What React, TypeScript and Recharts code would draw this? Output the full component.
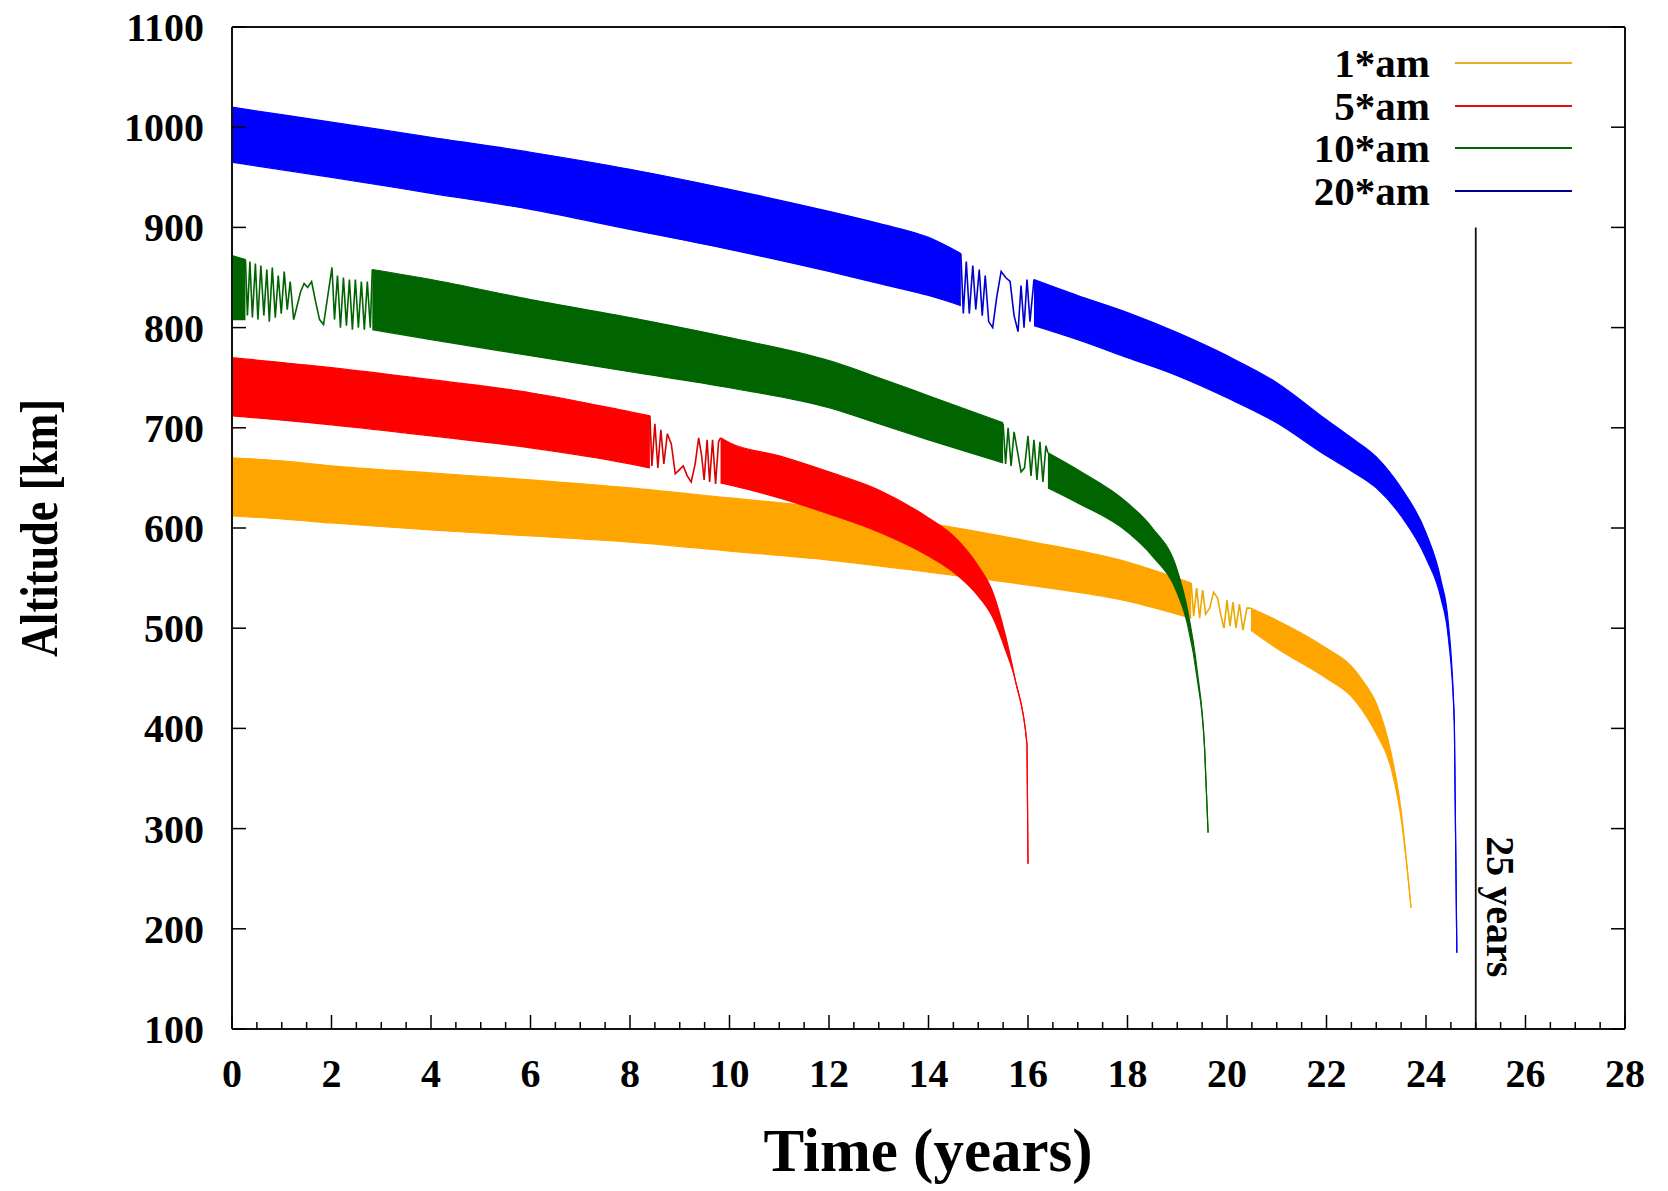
import { Area, ComposedChart, Line, ReferenceDot, ReferenceLine, XAxis, YAxis } from "recharts";

const SERIF = '"Liberation Serif", "Times New Roman", Times, serif';

const ORANGE = "#ffa500";
const RED = "#ff0000";
const GREEN = "#006400";
const BLUE = "#0000ff";

const xTicks = [
  0, 0.5, 1, 1.5, 2, 2.5, 3, 3.5, 4, 4.5, 5, 5.5, 6, 6.5, 7, 7.5, 8, 8.5, 9, 9.5, 10, 10.5, 11, 11.5, 12, 12.5, 13, 13.5,
  14, 14.5, 15, 15.5, 16, 16.5, 17, 17.5, 18, 18.5, 19, 19.5, 20, 20.5, 21, 21.5, 22, 22.5, 23, 23.5, 24, 24.5, 25, 25.5,
  26, 26.5, 27, 27.5, 28,
];
const yTicks = [100, 200, 300, 400, 500, 600, 700, 800, 900, 1000, 1100];

const legendLabels = ["1*am", "5*am", "10*am", "20*am"];
const legendColors = ["#e8b020", "#e01010", GREEN, "#000090"];

// 1*am : band envelope (low / high), null = gap where the trace is sparse
const am1Time = [0, 1, 2, 4, 6, 8, 10, 12, 14, 16, 18, 19.28, 19.9, 20.48, 21, 22, 22.5, 22.75, 23, 23.3, 23.5, 23.62, 23.7];
const am1Low = [612, 609, 605, 598, 592, 586, 577, 568, 556, 543, 527, 510, null, 498, 480, 450, 432, 416, 395, 360, 310, 260, 221];
const am1High = [670, 667, 662, 655, 648, 640, 630, 620, 605, 587, 566, 545, null, 520, 508, 480, 462, 446, 425, 375, 318, 262, 221];
const am1WiggleTime = [19.28, 19.33, 19.39, 19.45, 19.51, 19.57, 19.65, 19.73, 19.81, 19.88, 19.94, 20.0, 20.06, 20.12, 20.18, 20.25, 20.32, 20.4, 20.48];
const am1WiggleAlt = [545, 512, 540, 510, 538, 514, 520, 536, 530, 512, 500, 528, 502, 526, 500, 524, 498, 520, 520];

// 5*am
const am5Time = [0, 2, 4, 6, 8, 8.4, 9.1, 9.82, 10, 11, 12, 13, 14, 14.5, 15, 15.3, 15.55, 15.75, 15.98, 16.0];
const am5Low = [712, 703, 692, 680, 664, 660, null, 645, 643, 630, 614, 596, 572, 556, 532, 510, 478, 447, 384, 265];
const am5High = [770, 760, 748, 735, 716, 712, null, 690, 685, 672, 656, 638, 610, 592, 562, 535, 492, 447, 384, 265];
const am5WiggleTime = [8.4, 8.44, 8.5, 8.56, 8.62, 8.68, 8.75, 8.83, 8.91, 8.99, 9.07, 9.15, 9.23, 9.31, 9.38, 9.44, 9.49, 9.55, 9.6, 9.66, 9.72, 9.78, 9.82];
const am5WiggleAlt = [712, 662, 704, 660, 698, 664, 694, 684, 654, 658, 662, 652, 646, 664, 690, 672, 648, 688, 646, 688, 644, 686, 690];

// 10*am
const am10Time = [0, 0.27, 1.5, 2.82, 4, 6, 8, 10, 12, 13, 14, 15.5, 16.0, 16.4, 17, 18, 18.5, 19, 19.2, 19.4, 19.55, 19.62];
const am10Low = [808, 808, null, 798, 788, 772, 756, 740, 720, 704, 688, 665, null, 640, 625, 596, 572, 535, 505, 450, 380, 296];
const am10High = [872, 868, null, 858, 848, 828, 810, 790, 767, 750, 732, 705, null, 675, 658, 625, 600, 558, 520, 458, 380, 296];
const am10WiggleTime = [
  0.27, 0.31, 0.36, 0.41, 0.47, 0.52, 0.58, 0.64, 0.7, 0.75, 0.81, 0.87, 0.93, 0.99, 1.05, 1.11, 1.17, 1.24, 1.31, 1.38, 1.45,
  1.52, 1.6, 1.68, 1.76, 1.84, 1.92, 2.01, 2.06, 2.12, 2.18, 2.24, 2.3, 2.36, 2.42, 2.48, 2.54, 2.6, 2.66, 2.72, 2.78, 2.82,
];
const am10WiggleAlt = [
  868, 812, 866, 810, 864, 808, 862, 812, 858, 806, 860, 810, 852, 814, 856, 818, 846, 808, 822, 836, 844, 840, 846, 826, 808,
  803, 830, 860, 808, 852, 800, 850, 802, 848, 798, 848, 800, 846, 798, 846, 800, 858,
];
const am10Wiggle2Time = [15.5, 15.55, 15.6, 15.66, 15.72, 15.79, 15.86, 15.93, 16.0, 16.06, 16.12, 16.18, 16.24, 16.3, 16.36, 16.4];
const am10Wiggle2Alt = [704, 664, 700, 662, 696, 676, 656, 660, 692, 652, 688, 648, 686, 646, 682, 675];

// 20*am
const am20Time = [0, 2, 4, 6, 8, 10, 12, 13, 14, 14.65, 15.4, 16.12, 17, 18, 19, 20, 21, 22, 22.5, 23, 23.5, 24, 24.3, 24.45, 24.57, 24.62];
const am20Low = [965, 950, 934, 918, 898, 878, 856, 844, 832, 822, null, 802, 788, 770, 752, 730, 705, 672, 657, 640, 612, 570, 530, 490, 405, 176];
const am20High = [1020, 1005, 990, 975, 958, 938, 916, 904, 890, 874, null, 848, 832, 815, 795, 772, 745, 708, 690, 671, 640, 595, 548, 505, 405, 176];
const am20WiggleTime = [14.65, 14.7, 14.76, 14.82, 14.89, 14.95, 15.02, 15.08, 15.14, 15.21, 15.29, 15.37, 15.46, 15.55, 15.64, 15.72, 15.8, 15.86, 15.92, 15.98, 16.04, 16.12];
const am20WiggleAlt = [874, 814, 866, 814, 862, 818, 858, 812, 852, 806, 800, 830, 856, 850, 846, 812, 796, 842, 800, 848, 806, 848];

const band = (time: number[], low: (number | null)[], high: (number | null)[]) =>
  time.map((t, i) => ({ t, range: low[i] == null ? null : [low[i], high[i]] }));
const trace = (time: number[], alt: number[]) => time.map((t, i) => ({ t, v: alt[i] }));

const series = [
  { band: band(am1Time, am1Low, am1High), wiggles: [trace(am1WiggleTime, am1WiggleAlt)], color: ORANGE, line: "#eaa800" },
  { band: band(am5Time, am5Low, am5High), wiggles: [trace(am5WiggleTime, am5WiggleAlt)], color: RED, line: "#d80000" },
  {
    band: band(am10Time, am10Low, am10High),
    wiggles: [trace(am10WiggleTime, am10WiggleAlt), trace(am10Wiggle2Time, am10Wiggle2Alt)],
    color: GREEN,
    line: GREEN,
  },
  { band: band(am20Time, am20Low, am20High), wiggles: [trace(am20WiggleTime, am20WiggleAlt)], color: BLUE, line: "#0000d0" },
];

const tickText = { fontFamily: SERIF, fontWeight: 700, fontSize: 40, fill: "#000" };

function BottomTick({ x, y, payload }: any) {
  const v = payload.value;
  const major = v % 2 === 0;
  return (
    <g>
      <line x1={x} x2={x} y1={y} y2={y - (major ? 14 : 7)} stroke="#000" strokeWidth={1.5} />
      {major && (
        <text x={x} y={y + 58} textAnchor="middle" {...tickText}>
          {v}
        </text>
      )}
    </g>
  );
}

function TopTick({ x, y, payload }: any) {
  const major = payload.value % 2 === 0;
  return <line x1={x} x2={x} y1={y} y2={y + (major ? 14 : 7)} stroke="#000" strokeWidth={1.5} />;
}

function LeftTick({ x, y, payload }: any) {
  return (
    <g>
      <line x1={x} x2={x + 14} y1={y} y2={y} stroke="#000" strokeWidth={1.5} />
      <text x={x - 28} y={y + 14} textAnchor="end" {...tickText}>
        {payload.value}
      </text>
    </g>
  );
}

function RightTick({ x, y }: any) {
  return <line x1={x} x2={x - 14} y1={y} y2={y} stroke="#000" strokeWidth={1.5} />;
}

export default function App() {
  return (
    <div style={{ position: "absolute", left: 0, top: 0, width: 1668, height: 1191, background: "#fff" }}>
      <ComposedChart width={1668} height={1191} margin={{ top: 26, right: 42, bottom: 62, left: 82 }}>
        <XAxis
          xAxisId="b"
          dataKey="t"
          type="number"
          domain={[0, 28]}
          ticks={xTicks}
          interval={0}
          allowDataOverflow
          height={100}
          tickSize={0}
          tickMargin={0}
          tickLine={false}
          tick={<BottomTick />}
          axisLine={{ stroke: "#111", strokeWidth: 2 }}
          label={{
            content: () => (
              <text x={928} y={1171} textAnchor="middle" fontFamily={SERIF} fontWeight={700} fontSize={61} fill="#000">
                Time (years)
              </text>
            ),
          }}
        />
        <XAxis
          xAxisId="t"
          orientation="top"
          type="number"
          domain={[0, 28]}
          ticks={xTicks}
          interval={0}
          allowDataOverflow
          height={1}
          tickSize={0}
          tickMargin={0}
          tickLine={false}
          tick={<TopTick />}
          axisLine={{ stroke: "#111", strokeWidth: 2 }}
        />
        <YAxis
          yAxisId="l"
          type="number"
          domain={[100, 1100]}
          ticks={yTicks}
          interval={0}
          allowDataOverflow
          width={150}
          tickSize={0}
          tickMargin={0}
          tickLine={false}
          tick={<LeftTick />}
          axisLine={{ stroke: "#111", strokeWidth: 2 }}
          label={{
            content: () => (
              <text
                x={57}
                y={528}
                transform="rotate(-90 57 528)"
                textAnchor="middle"
                fontFamily={SERIF}
                fontWeight={700}
                fontSize={52}
                textLength={258}
                lengthAdjust="spacingAndGlyphs"
                fill="#000"
              >
                Altitude [km]
              </text>
            ),
          }}
        />
        <YAxis
          yAxisId="r"
          orientation="right"
          type="number"
          domain={[100, 1100]}
          ticks={yTicks}
          interval={0}
          allowDataOverflow
          width={1}
          tickSize={0}
          tickMargin={0}
          tickLine={false}
          tick={<RightTick />}
          axisLine={{ stroke: "#111", strokeWidth: 2 }}
        />

        {series.map((s, i) => [
          <Area
            key={`band${i}`}
            data={s.band}
            xAxisId="b"
            yAxisId="l"
            dataKey="range"
            type="monotone"
            stroke={s.color}
            strokeWidth={1.2}
            fill={s.color}
            fillOpacity={1}
            dot={false}
            activeDot={false}
            isAnimationActive={false}
          />,
          ...s.wiggles.map((w, j) => (
            <Line
              key={`w${i}-${j}`}
              data={w}
              xAxisId="b"
              yAxisId="l"
              dataKey="v"
              type="linear"
              stroke={s.line}
              strokeWidth={1.6}
              dot={false}
              activeDot={false}
              isAnimationActive={false}
            />
          )),
        ])}

        <ReferenceLine
          xAxisId="b"
          yAxisId="l"
          segment={[
            { x: 25, y: 900 },
            { x: 25, y: 100 },
          ]}
          stroke="#111"
          strokeWidth={1.8}
        />
        <ReferenceDot
          xAxisId="b"
          yAxisId="l"
          x={25.5}
          y={222}
          r={0}
          shape={(p: any) => (
            <text
              x={p.cx}
              y={p.cy}
              transform={`rotate(90 ${p.cx} ${p.cy})`}
              textAnchor="middle"
              dominantBaseline="central"
              fontFamily={SERIF}
              fontWeight={700}
              fontSize={40}
              fill="#000"
            >
              25 years
            </text>
          )}
        />
      </ComposedChart>

      <div style={{ position: "absolute", left: 1280, top: 42, width: 300 }}>
        {legendLabels.map((label, i) => (
          <div key={label} style={{ display: "flex", alignItems: "center", height: 42.5 }}>
            <span
              style={{
                width: 150,
                textAlign: "right",
                fontFamily: SERIF,
                fontWeight: 700,
                fontSize: 41,
                lineHeight: "42px",
                color: "#000",
              }}
            >
              {label}
            </span>
            <span style={{ marginLeft: 25, width: 117, height: 0, borderTop: `2px solid ${legendColors[i]}` }} />
          </div>
        ))}
      </div>
    </div>
  );
}
